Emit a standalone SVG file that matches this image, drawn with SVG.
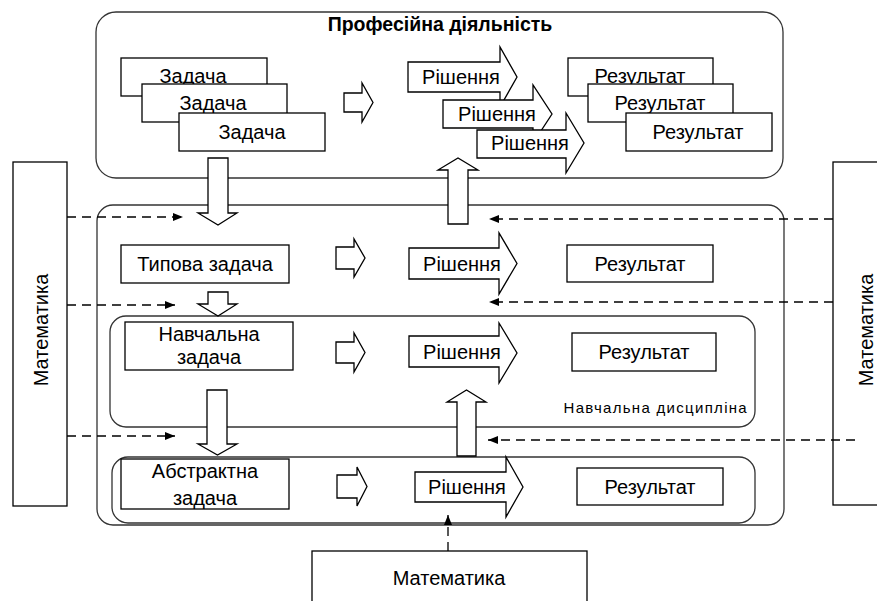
<svg xmlns="http://www.w3.org/2000/svg" width="877" height="601" viewBox="0 0 877 601">
<defs>
<style>
.cont{fill:#fff;stroke:#333;stroke-width:1.3}
.box{fill:#fff;stroke:#000;stroke-width:1.3}
.blk{fill:#fff;stroke:#000;stroke-width:1.3;stroke-linejoin:miter}
.dash{fill:none;stroke:#000;stroke-width:1.3;stroke-dasharray:9 6}
.t{font-family:"Liberation Sans",Arial,sans-serif;font-size:20px;fill:#000;text-anchor:middle}
.title{font-family:"Liberation Sans",Arial,sans-serif;font-size:19.5px;font-weight:bold;fill:#000;text-anchor:middle}
.small{font-family:"Liberation Sans",Arial,sans-serif;font-size:15px;fill:#000;letter-spacing:1.3px;text-anchor:end}
</style>
<marker id="ah" viewBox="0 0 10 10" refX="10" refY="5" markerWidth="10" markerHeight="10" markerUnits="userSpaceOnUse" orient="auto">
<path d="M0,1 L10,5 L0,9 Z" fill="#000"/>
</marker>
</defs>
<rect width="877" height="601" fill="#fff"/>

<g id="prof">
<rect class="cont" x="96" y="12" width="687" height="166" rx="20"/>
<text class="title" x="440" y="31">Професійна діяльність</text>
</g>
<g id="edu">
<rect class="cont" x="97" y="205" width="687" height="320" rx="16"/>
</g>
<g id="disc">
<rect class="cont" x="110" y="316" width="645" height="111" rx="16"/>
<text class="small" x="748" y="413">Навчальна дисципліна</text>
</g>
<g id="abs-row">
<rect class="cont" x="112" y="457" width="643" height="66" rx="16"/>
</g>

<g id="math-left">
<rect class="box" x="13" y="162" width="54" height="344"/>
<text class="t" font-size="22" transform="translate(48,330) rotate(-90)">Математика</text>
</g>
<g id="math-right">
<rect class="box" x="833" y="162" width="60" height="343"/>
<text class="t" font-size="22" transform="translate(873,330) rotate(-90)">Математика</text>
</g>
<g id="math-bottom">
<rect class="box" x="312" y="551" width="275" height="60"/>
<text class="t" font-size="21" x="449" y="585">Математика</text>
</g>

<g id="connectors">
<line class="dash" x1="67" y1="217" x2="183" y2="217" marker-end="url(#ah)"/>
<line class="dash" x1="67" y1="305" x2="175" y2="305" marker-end="url(#ah)"/>
<line class="dash" x1="67" y1="436" x2="175" y2="436" marker-end="url(#ah)"/>
<line class="dash" x1="833" y1="219" x2="489" y2="219" marker-end="url(#ah)"/>
<line class="dash" x1="833" y1="302" x2="489" y2="302" marker-end="url(#ah)"/>
<line class="dash" x1="855" y1="440" x2="488" y2="440" marker-end="url(#ah)"/>
<line class="dash" x1="448" y1="551" x2="448" y2="515" marker-end="url(#ah)"/>
<path class="blk" d="M208,158 L228,158 L228,213 L237,213 L218,225 L198,213 L208,213 Z"/>
<path class="blk" d="M208,292 L228,292 L228,304 L237,304 L218,316 L198,304 L208,304 Z"/>
<path class="blk" d="M207,390 L227,390 L227,444 L237,444 L217.5,455 L198,444 L207,444 Z"/>
<path class="blk" d="M448,224 L468,224 L468,170 L478,170 L458,158 L438,170 L448,170 Z"/>
<path class="blk" d="M457,456 L476,456 L476,402 L486,402 L466.5,390 L447,402 L457,402 Z"/>
<path class="blk" d="M344,93 L362,93 L362,83 L373,102.5 L362,122 L362,112 L344,112 Z"/>
<path class="blk" d="M336,247 L354,247 L354,239 L365,258 L354,277 L354,269 L336,269 Z"/>
<path class="blk" d="M336,342 L354,342 L354,333 L365,352.5 L354,372 L354,363 L336,363 Z"/>
<path class="blk" d="M337,475 L357,475 L357,467 L367,486.5 L357,506 L357,498 L337,498 Z"/>
</g>

<g id="task1"><rect class="box" x="121" y="58" width="146" height="38"/><text class="t" x="193" y="83">Задача</text></g>
<g id="task2"><rect class="box" x="142" y="84" width="145" height="38"/><text class="t" x="213" y="110">Задача</text></g>
<g id="task3"><rect class="box" x="179" y="113" width="146" height="38"/><text class="t" x="252" y="139">Задача</text></g>

<g id="sol1"><path class="blk" d="M408,62 L500,62 L500,47 L517,77 L500,107 L500,92 L408,92 Z"/><text class="t" x="461" y="84">Рішення</text></g>
<g id="sol2"><path class="blk" d="M443,100 L533,100 L533,85 L552,114 L533,143 L533,128 L443,128 Z"/><text class="t" x="497" y="121">Рішення</text></g>
<g id="sol3"><path class="blk" d="M477,130 L566,130 L566,113 L584,143 L566,173 L566,158 L477,158 Z"/><text class="t" x="530" y="150">Рішення</text></g>

<g id="res1"><rect class="box" x="568" y="58" width="145" height="38"/><text class="t" x="640" y="83">Результат</text></g>
<g id="res2"><rect class="box" x="588" y="84" width="145" height="38"/><text class="t" x="660" y="110">Результат</text></g>
<g id="res3"><rect class="box" x="626" y="113" width="146" height="38"/><text class="t" x="698" y="139">Результат</text></g>

<g id="typical-task"><rect class="box" x="121" y="245" width="168" height="38"/><text class="t" x="205" y="271">Типова задача</text></g>
<g id="typical-sol"><path class="blk" d="M409,248 L499,248 L499,233 L517,263.5 L499,294 L499,279 L409,279 Z"/><text class="t" x="462" y="271">Рішення</text></g>
<g id="typical-res"><rect class="box" x="567" y="245" width="146" height="37"/><text class="t" x="640" y="271">Результат</text></g>

<g id="edu-task"><rect class="box" x="125" y="322" width="168" height="48"/><text class="t" x="209" y="341">Навчальна</text><text class="t" x="209" y="364">задача</text></g>
<g id="edu-sol"><path class="blk" d="M409,336 L499,336 L499,323 L517,353 L499,383 L499,367 L409,367 Z"/><text class="t" x="462" y="359">Рішення</text></g>
<g id="edu-res"><rect class="box" x="572" y="333" width="144" height="38"/><text class="t" x="644" y="359">Результат</text></g>

<g id="abs-task"><rect class="box" x="121" y="459" width="168" height="50"/><text class="t" x="205" y="478">Абстрактна</text><text class="t" x="205" y="505">задача</text></g>
<g id="abs-sol"><path class="blk" d="M415,472 L506,472 L506,457 L523,487 L506,517 L506,502 L415,502 Z"/><text class="t" x="467" y="494">Рішення</text></g>
<g id="abs-res"><rect class="box" x="577" y="468" width="146" height="37"/><text class="t" x="650" y="494">Результат</text></g>
</svg>
